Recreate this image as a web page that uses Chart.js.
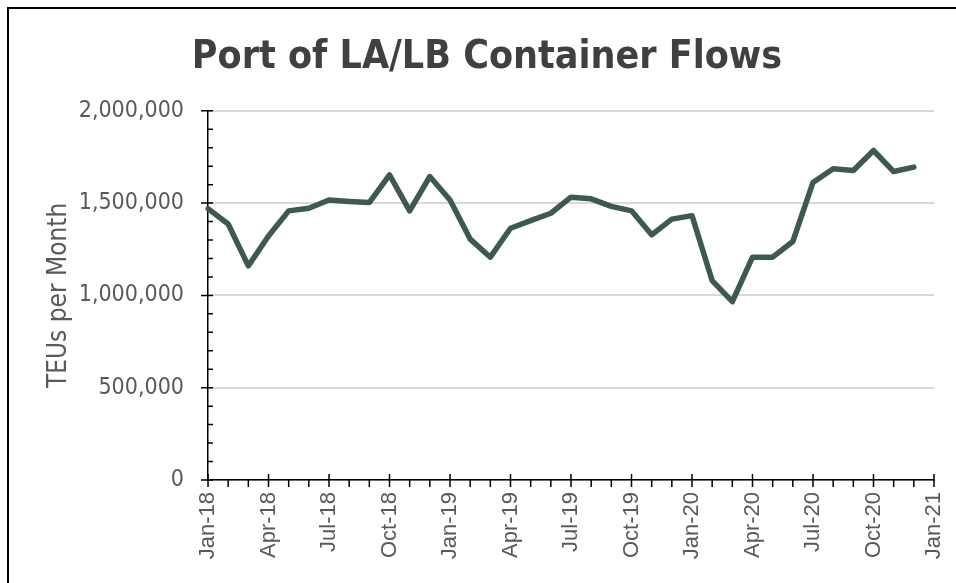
<!DOCTYPE html>
<html>
<head>
<meta charset="utf-8">
<script src="https://cdn.jsdelivr.net/npm/chart.js@4.4.1/dist/chart.umd.min.js"></script>
<style>
  html, body { margin: 0; padding: 0; background: #fff; overflow: hidden; }
  #frame { position: absolute; left: 7px; top: 7px; right: -10px; bottom: -10px; border: 2px solid #000; }
  #wrap { position: absolute; left: 0; top: 0; width: 956px; height: 583px; }
</style>
</head>
<body>
<div id="frame"></div>
<div id="wrap"><canvas id="myChart" width="956" height="583"></canvas></div>
<script>
// month labels Jan-18 .. Jan-21
var monthLabels = [
  "Jan-18", "Feb-18", "Mar-18", "Apr-18", "May-18", "Jun-18", "Jul-18", "Aug-18", "Sep-18", "Oct-18", "Nov-18", "Dec-18",
  "Jan-19", "Feb-19", "Mar-19", "Apr-19", "May-19", "Jun-19", "Jul-19", "Aug-19", "Sep-19", "Oct-19", "Nov-19", "Dec-19",
  "Jan-20", "Feb-20", "Mar-20", "Apr-20", "May-20", "Jun-20", "Jul-20", "Aug-20", "Sep-20", "Oct-20", "Nov-20", "Dec-20",
  "Jan-21"
];

// TEUs per month (LA + LB combined)
var teus = [
  1470000, 1387000, 1160000, 1322000, 1458000, 1472000, 1517000, 1509000, 1503000, 1653000, 1458000, 1644000,
  1517000, 1305000, 1207000, 1364000, 1405000, 1445000, 1532000, 1523000, 1482000, 1458000, 1328000, 1413000,
  1432000, 1080000, 966000, 1207000, 1207000, 1292000, 1612000, 1686000, 1677000, 1785000, 1671000, 1695000
];

var yMin = 0;
var yMax = 2000000;
var yStep = 500000;
var yMinorStep = 100000;

var fontFam = '"DejaVu Sans Condensed", "DejaVu Sans", sans-serif';

// small tick marks like excel: major ones cross the axis, minor ones on one side
var axisTicks = {
  id: "axisTicks",
  afterDraw: function (chart) {
    var ctx = chart.ctx;
    var x = chart.scales.x;
    var y = chart.scales.y;
    ctx.save();
    ctx.strokeStyle = "#000";
    ctx.lineWidth = 1.5;
    ctx.beginPath();
    monthLabels.forEach(function (lab, i) {
      var px = x.getPixelForValue(i);
      var major = i % 3 === 0;
      ctx.moveTo(px, x.top + (major ? -6 : 0));
      ctx.lineTo(px, x.top + 7);
    });
    for (var v = yMin; v <= yMax; v += yMinorStep) {
      var py = y.getPixelForValue(v);
      var major = v % yStep === 0;
      ctx.moveTo(y.right - (major ? 7 : 0), py);
      ctx.lineTo(y.right + 5, py);
    }
    ctx.stroke();
    ctx.restore();
  }
};

var ctx = document.getElementById("myChart").getContext("2d");
var myChart = new Chart(ctx, {
  type: "line",
  data: {
    labels: monthLabels,
    datasets: [
      {
        data: teus,
        label: "TEUs",
        borderColor: "#3d5a4c",
        borderWidth: 5.5,
        borderJoinStyle: "round",
        borderCapStyle: "round",
        pointRadius: 0,
        tension: 0,
        fill: false
      }
    ]
  },
  options: {
    responsive: false,
    animation: false,
    layout: { padding: { left: 40, right: 22, top: 0, bottom: 0 } },
    plugins: {
      legend: { display: false },
      tooltip: { enabled: false },
      title: {
        display: true,
        text: "Port of LA/LB Container Flows",
        color: "#404040",
        font: { family: fontFam, size: 39, weight: "bold", lineHeight: 1.2 },
        padding: { top: 34, bottom: 30 }
      }
    },
    scales: {
      x: {
        type: "category",
        offset: false,
        grid: { display: false, drawTicks: false },
        border: { display: true, color: "#000", width: 1.5 },
        ticks: {
          autoSkip: false,
          minRotation: 90,
          maxRotation: 90,
          padding: 12,
          color: "#595959",
          font: { family: '"Liberation Sans", Arial, sans-serif', size: 22 },
          callback: function (val, i) {
            return i % 3 === 0 ? monthLabels[i] : "";
          }
        },
        afterFit: function (scale) {
          scale.height = 103;
          scale.paddingLeft = 0;
          scale.paddingRight = 0;
        }
      },
      y: {
        min: yMin,
        max: yMax,
        grid: { color: "#d9d9d9", lineWidth: 2, drawTicks: false },
        border: { display: true, color: "#000", width: 1.5 },
        ticks: {
          stepSize: yStep,
          padding: 24,
          color: "#595959",
          font: { family: fontFam, size: 23 },
          callback: function (v) {
            return v.toLocaleString("en-US");
          }
        },
        title: {
          display: true,
          text: "TEUs per Month",
          color: "#595959",
          font: { family: fontFam, size: 26 },
          padding: { top: 4, bottom: 0 }
        },
        afterFit: function (scale) {
          scale.width = 168;
        }
      }
    }
  },
  plugins: [axisTicks]
});
</script>
</body>
</html>
